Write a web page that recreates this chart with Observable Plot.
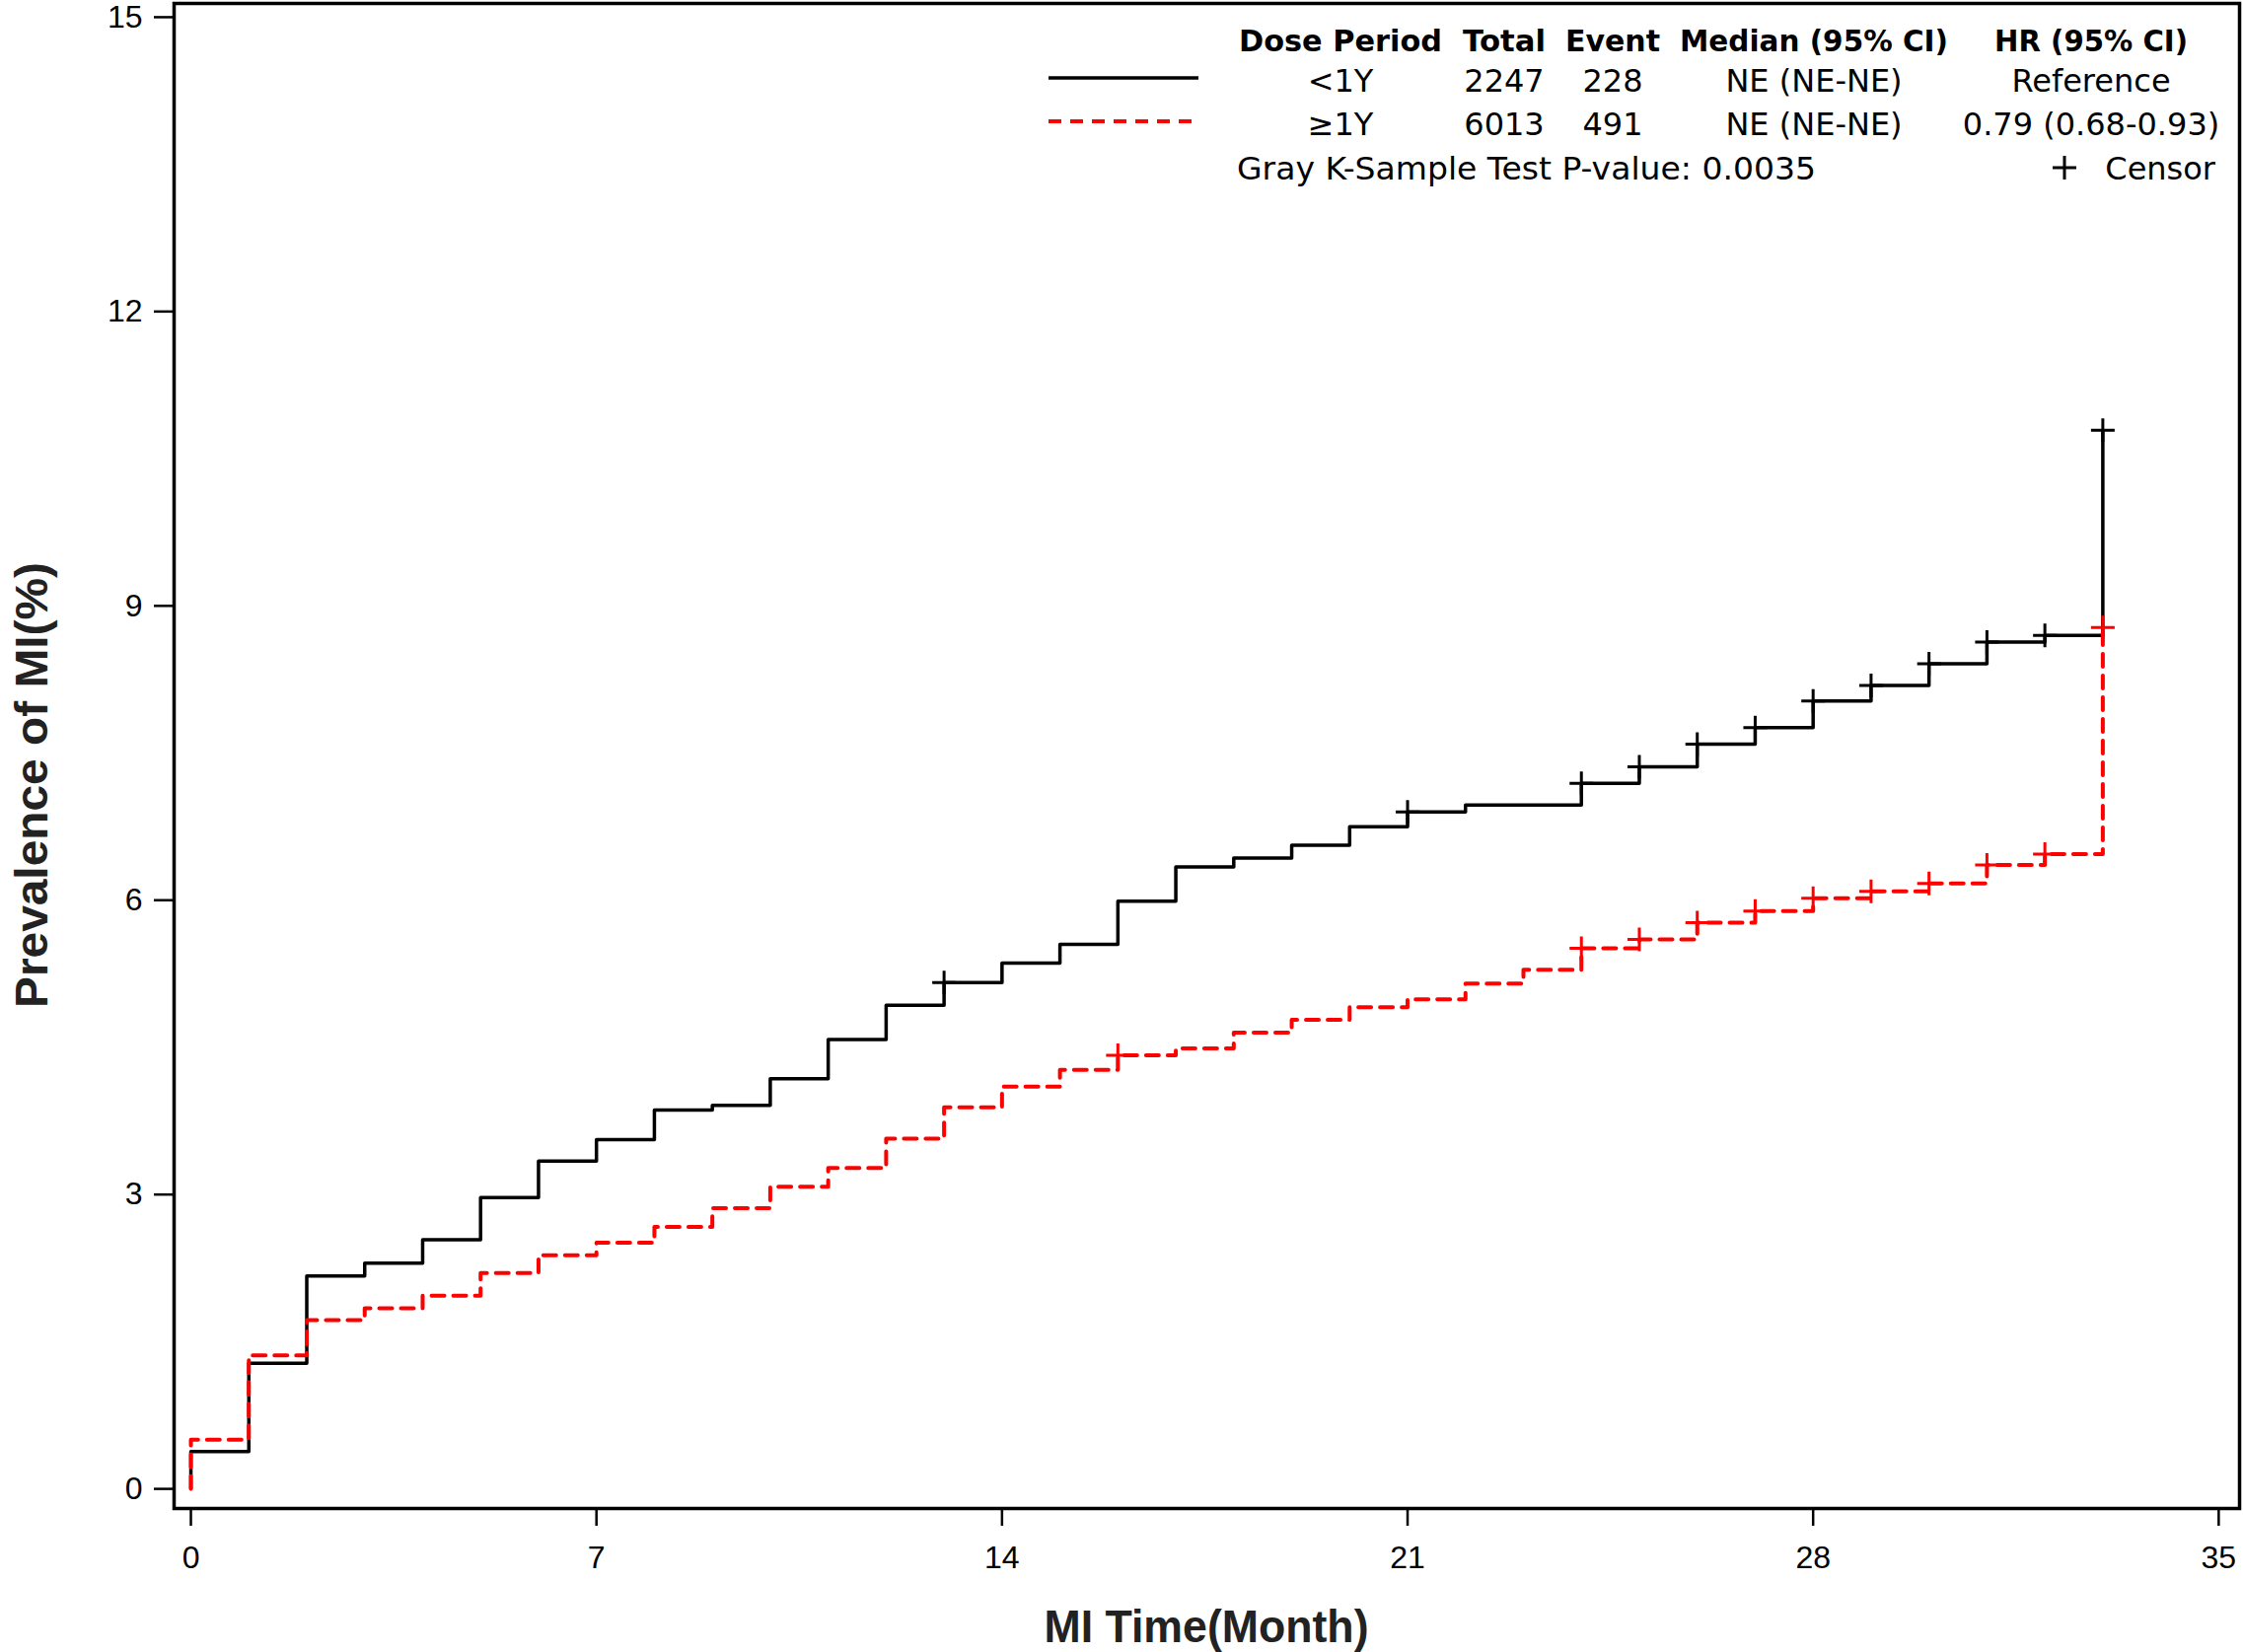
<!DOCTYPE html>
<html><head><meta charset="utf-8">
<script src="https://cdn.jsdelivr.net/npm/d3@7"></script>
<script src="https://cdn.jsdelivr.net/npm/@observablehq/plot@0.6"></script>
<style>body{margin:0;background:#fff}</style>
</head><body><div id="chart"></div>
<script>
const months = [0,1,2,3,4,5,6,7,8,9,10,11,12,13,14,15,16,17,18,19,20,21,22,23,24,25,26,27,28,29,30,31,32,33];
const lt1Y = [0.38,1.28,2.17,2.30,2.54,2.97,3.34,3.56,3.86,3.91,4.18,4.58,4.93,5.16,5.36,5.55,5.99,6.34,6.43,6.56,6.75,6.90,6.97,6.97,7.19,7.36,7.59,7.76,8.03,8.19,8.41,8.63,8.70,10.79];
const ge1Y = [0.50,1.36,1.72,1.84,1.97,2.20,2.38,2.51,2.67,2.86,3.08,3.27,3.57,3.89,4.10,4.27,4.42,4.49,4.65,4.78,4.91,4.99,5.15,5.29,5.51,5.60,5.77,5.89,6.02,6.09,6.17,6.36,6.47,8.78];
const censorLt1Y = [13,21,24,25,26,27,28,29,30,31,32,33];
const censorGe1Y = [16,24,25,26,27,28,29,30,31,32,33];
const xTicks = [0,7,14,21,28,35];
const yTicks = [0,3,6,9,12,15];
const xLabel = "MI Time(Month)";
const yLabel = "Prevalence of MI(%)";
const legendHeader = ["Dose Period","Total","Event","Median (95% CI)","HR (95% CI)"];
const legendRows = [
  ["<1Y","2247","228","NE (NE-NE)","Reference"],
  ["\u22651Y","6013","491","NE (NE-NE)","0.79 (0.68-0.93)"]
];
const pValueText = "Gray K-Sample Test P-value: 0.0035";
const censorText = "Censor";

function series(vals) { return [{t: 0, v: 0}, ...months.map((t, i) => ({t, v: vals[i]}))]; }
function censor(times, vals) { return times.map(t => ({t, v: vals[months.indexOf(t)]})); }

const plus = {
  draw(ctx, size) {
    const r = Math.sqrt(size / Math.PI);
    ctx.moveTo(-r, 0); ctx.lineTo(r, 0);
    ctx.moveTo(0, -r); ctx.lineTo(0, r);
  }
};

const chart = Plot.plot({
  width: 2274, height: 1675,
  marginLeft: 176, marginRight: 4, marginTop: 3, marginBottom: 146,
  x: {domain: [-0.29, 35.36]},
  y: {domain: [-0.2, 15.14]},
  style: {fontFamily: "Liberation Sans, Arial, sans-serif", fontSize: "32px", background: "#fff", color: "#000"},
  marks: [
    Plot.axisX({ticks: xTicks, tickSize: 18, tickPadding: 20, label: null, fontSize: 32, strokeWidth: 2.5}),
    Plot.axisY({ticks: yTicks, tickSize: 20, tickPadding: 12, label: null, fontSize: 32, strokeWidth: 2.5}),
    Plot.line(series(lt1Y), {x: "t", y: "v", curve: "step-after", stroke: "#000", strokeWidth: 3.5}),
    Plot.line(series(ge1Y), {x: "t", y: "v", curve: "step-after", stroke: "#ff0000", strokeWidth: 4, strokeDasharray: "13,9"}),
    Plot.dot(censor(censorLt1Y, lt1Y), {x: "t", y: "v", symbol: plus, r: 12, stroke: "#000", strokeWidth: 3, fill: "none"}),
    Plot.dot(censor(censorGe1Y, ge1Y), {x: "t", y: "v", symbol: plus, r: 12, stroke: "#ff0000", strokeWidth: 3, fill: "none"}),
    Plot.frame({stroke: "#000", strokeWidth: 3.5})
  ]
});

const svg = d3.select(chart);

// Axis labels
const labels = svg.append("g").attr("font-family", "Liberation Sans, Arial, sans-serif").attr("font-weight", "bold").attr("font-size", 46).attr("fill", "#222").attr("text-anchor", "middle");
labels.append("text").attr("x", 1223).attr("y", 1665).attr("textLength", 329).attr("lengthAdjust", "spacingAndGlyphs").text(xLabel);
labels.append("text").attr("transform", "translate(48,796) rotate(-90)").attr("x", 0).attr("y", 0).attr("textLength", 452).attr("lengthAdjust", "spacingAndGlyphs").text(yLabel);

// Legend (inset, top right)
const g = svg.append("g").attr("font-family", "DejaVu Sans, sans-serif").attr("font-size", 32).attr("fill", "#000");
const colCenters = [1359, 1525, 1635, 1839, 2120];
const headerWidths = [206, 84, 96, 272, 196];
const rowBaselines = [52, 93, 137];
legendHeader.forEach((h, i) => g.append("text").attr("x", colCenters[i]).attr("y", rowBaselines[0]).attr("text-anchor", "middle").attr("font-weight", "bold").attr("font-size", 30).attr("textLength", headerWidths[i]).attr("lengthAdjust", "spacingAndGlyphs").text(h));
legendRows.forEach((row, r) => row.forEach((c, i) => g.append("text").attr("x", colCenters[i]).attr("y", rowBaselines[r + 1]).attr("text-anchor", "middle").text(c)));
g.append("line").attr("x1", 1063).attr("x2", 1215).attr("y1", 79).attr("y2", 79).attr("stroke", "#000").attr("stroke-width", 3.5);
g.append("line").attr("x1", 1063).attr("x2", 1215).attr("y1", 123).attr("y2", 123).attr("stroke", "#ff0000").attr("stroke-width", 4).attr("stroke-dasharray", "13,9");
g.append("text").attr("x", 1254).attr("y", 182).attr("text-anchor", "start").attr("textLength", 587).attr("lengthAdjust", "spacingAndGlyphs").text(pValueText);
g.append("path").attr("d", "M2081,170H2105M2093,158V182").attr("stroke", "#000").attr("stroke-width", 3).attr("fill", "none");
g.append("text").attr("x", 2246).attr("y", 182).attr("text-anchor", "end").text(censorText);

document.getElementById("chart").appendChild(chart);
</script>
</body></html>
